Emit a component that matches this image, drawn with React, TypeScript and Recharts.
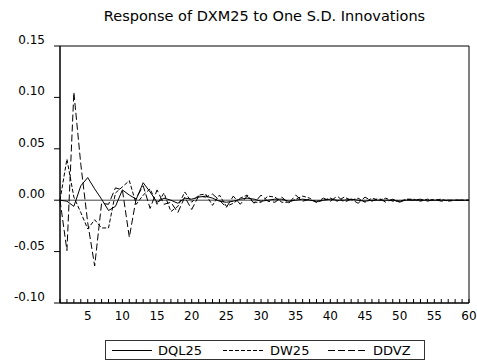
import React from 'react';
import { LineChart, Line, XAxis, YAxis, ReferenceLine, ReferenceArea } from 'recharts';

const periods = [
  1, 2, 3, 4, 5, 6, 7, 8, 9, 10, 11, 12, 13, 14, 15, 16, 17, 18, 19, 20,
  21, 22, 23, 24, 25, 26, 27, 28, 29, 30, 31, 32, 33, 34, 35, 36, 37, 38, 39, 40,
  41, 42, 43, 44, 45, 46, 47, 48, 49, 50, 51, 52, 53, 54, 55, 56, 57, 58, 59, 60,
];

const dql25 = [
  0, -0.001, -0.006, 0.014, 0.022, 0.011, 0.001, -0.010, -0.006, 0.010,
  0.005, 0.001, 0.017, 0.008, -0.002, 0.002, 0.000, -0.003, 0.002, 0.001,
  0.003, 0.004, 0.002, -0.001, -0.002, -0.001, 0.001, 0.002, 0.001, -0.001,
  0.000, 0.001, 0.001, -0.001, 0.000, 0.001, 0.000, -0.001, 0.000, 0.001,
  0.000, 0.000, 0.001, 0.000, -0.001, 0.000, 0.000, 0.000, 0.000, -0.001,
  0.000, 0.000, 0.000, 0.000, 0.000, 0.000, 0.000, 0.000, 0.000, 0.000,
];

const dw25 = [
  0, 0.040, 0.003, -0.012, -0.028, -0.019, -0.027, -0.027, 0.007, 0.013,
  0.019, -0.004, 0.005, 0.011, -0.004, 0.007, -0.011, -0.006, 0.008, -0.002,
  0.005, 0.006, -0.005, 0.005, -0.006, -0.003, 0.002, 0.005, -0.002, -0.002,
  0.004, 0.003, -0.002, -0.002, 0.001, 0.004, 0.002, -0.002, 0.000, 0.002,
  -0.001, 0.003, 0.000, 0.002, -0.002, 0.002, 0.000, 0.002, -0.001, -0.001,
  0.001, 0.001, -0.001, 0.001, 0.000, 0.001, -0.001, 0.000, 0.000, 0.000,
];

const ddvz = [
  0, -0.049, 0.105, 0.035, -0.022, -0.064, -0.003, -0.004, 0.012, 0.010,
  -0.036, 0.002, 0.014, -0.008, 0.010, -0.004, -0.002, -0.012, 0.003, -0.009,
  0.004, 0.003, 0.006, 0.000, -0.007, 0.004, -0.004, 0.004, -0.003, 0.005,
  -0.001, -0.002, 0.003, -0.003, 0.005, -0.001, 0.001, -0.002, 0.002, -0.001,
  0.004, -0.002, 0.001, -0.003, 0.003, -0.001, 0.002, -0.002, 0.001, -0.002,
  0.001, 0.000, 0.001, -0.001, 0.001, -0.001, 0.000, 0.000, 0.000, 0.000,
];

const yTicks = [-0.1, -0.05, 0, 0.05, 0.1, 0.15];
const xLabelStep = 5;
const seriesNames = ['DQL25', 'DW25', 'DDVZ'];
const titleText = 'Response of DXM25 to One S.D. Innovations';

const data = periods.map((p, i) => ({
  period: p,
  DQL25: dql25[i],
  DW25: dw25[i],
  DDVZ: ddvz[i],
}));

const FONT = '"DejaVu Sans", "Liberation Sans", Arial, sans-serif';

const XTick = (props: any) => {
  const { x, y, payload } = props;
  const v = payload.value;
  return (
    <g>
      <line x1={x} x2={x} y1={y} y2={y - 4} stroke="#000" strokeWidth={1} />
      {v % xLabelStep === 0 ? (
        <text x={x} y={y + 17} textAnchor="middle" fontSize={12} fontFamily={FONT} fill="#000">
          {v}
        </text>
      ) : null}
    </g>
  );
};

const YTick = (props: any) => {
  const { x, y, payload } = props;
  return (
    <g>
      <line x1={x - 6} x2={x} y1={y} y2={y} stroke="#000" strokeWidth={1} />
      <text x={x - 15} y={y - 2} textAnchor="end" fontSize={12} fontFamily={FONT} fill="#000">
        {Number(payload.value).toFixed(2)}
      </text>
    </g>
  );
};

const dashes: Record<string, string | undefined> = {
  DQL25: undefined,
  DW25: '4 2',
  DDVZ: '7 3',
};

export default function App() {
  return (
    <div style={{ position: 'absolute', left: 0, top: 0, width: 477, height: 362, background: '#fff' }}>
      <LineChart
        width={477}
        height={362}
        data={data}
        margin={{ top: 46, right: 8, bottom: 39, left: 0 }}
      >
        <XAxis
          dataKey="period"
          type="number"
          domain={[1, 60]}
          ticks={periods}
          interval={0}
          height={20}
          tickSize={0}
          tickMargin={0}
          tickLine={false}
          axisLine={{ stroke: '#000' }}
          tick={<XTick />}
        />
        <YAxis
          type="number"
          domain={[-0.1, 0.15]}
          ticks={yTicks}
          interval={0}
          width={60}
          tickSize={0}
          tickMargin={0}
          tickLine={false}
          axisLine={{ stroke: '#000' }}
          tick={<YTick />}
        />
        <ReferenceArea x1={1} x2={60} y1={-0.1} y2={0.15} fill="none" stroke="#000" strokeWidth={1} />
        <ReferenceLine y={0} stroke="#444" strokeWidth={1} />
        {seriesNames.map((name) => (
          <Line
            key={name}
            dataKey={name}
            type="linear"
            stroke="#000"
            strokeWidth={1}
            strokeDasharray={dashes[name]}
            dot={false}
            isAnimationActive={false}
          />
        ))}
      </LineChart>
      <svg
        width={477}
        height={362}
        style={{ position: 'absolute', left: 0, top: 0, pointerEvents: 'none' }}
      >
        <text x={264.5} y={21} textAnchor="middle" fontSize={14.5} fontFamily={FONT} fill="#000">
          {titleText}
        </text>
        <rect x={105.5} y={340.5} width={319} height={19} fill="#fff" stroke="#333" strokeWidth={1} />
        <line x1={112} x2={152} y1={350.5} y2={350.5} stroke="#000" strokeWidth={1} />
        <text x={158} y={355} fontSize={13} fontFamily={FONT} fill="#000">{seriesNames[0]}</text>
        <line x1={223} x2={263} y1={350.5} y2={350.5} stroke="#000" strokeWidth={1} strokeDasharray="4 2" />
        <text x={270} y={355} fontSize={13} fontFamily={FONT} fill="#000">{seriesNames[1]}</text>
        <line x1={328} x2={367} y1={350.5} y2={350.5} stroke="#000" strokeWidth={1} strokeDasharray="7 3" />
        <text x={373} y={355} fontSize={13} fontFamily={FONT} fill="#000">{seriesNames[2]}</text>
      </svg>
    </div>
  );
}
